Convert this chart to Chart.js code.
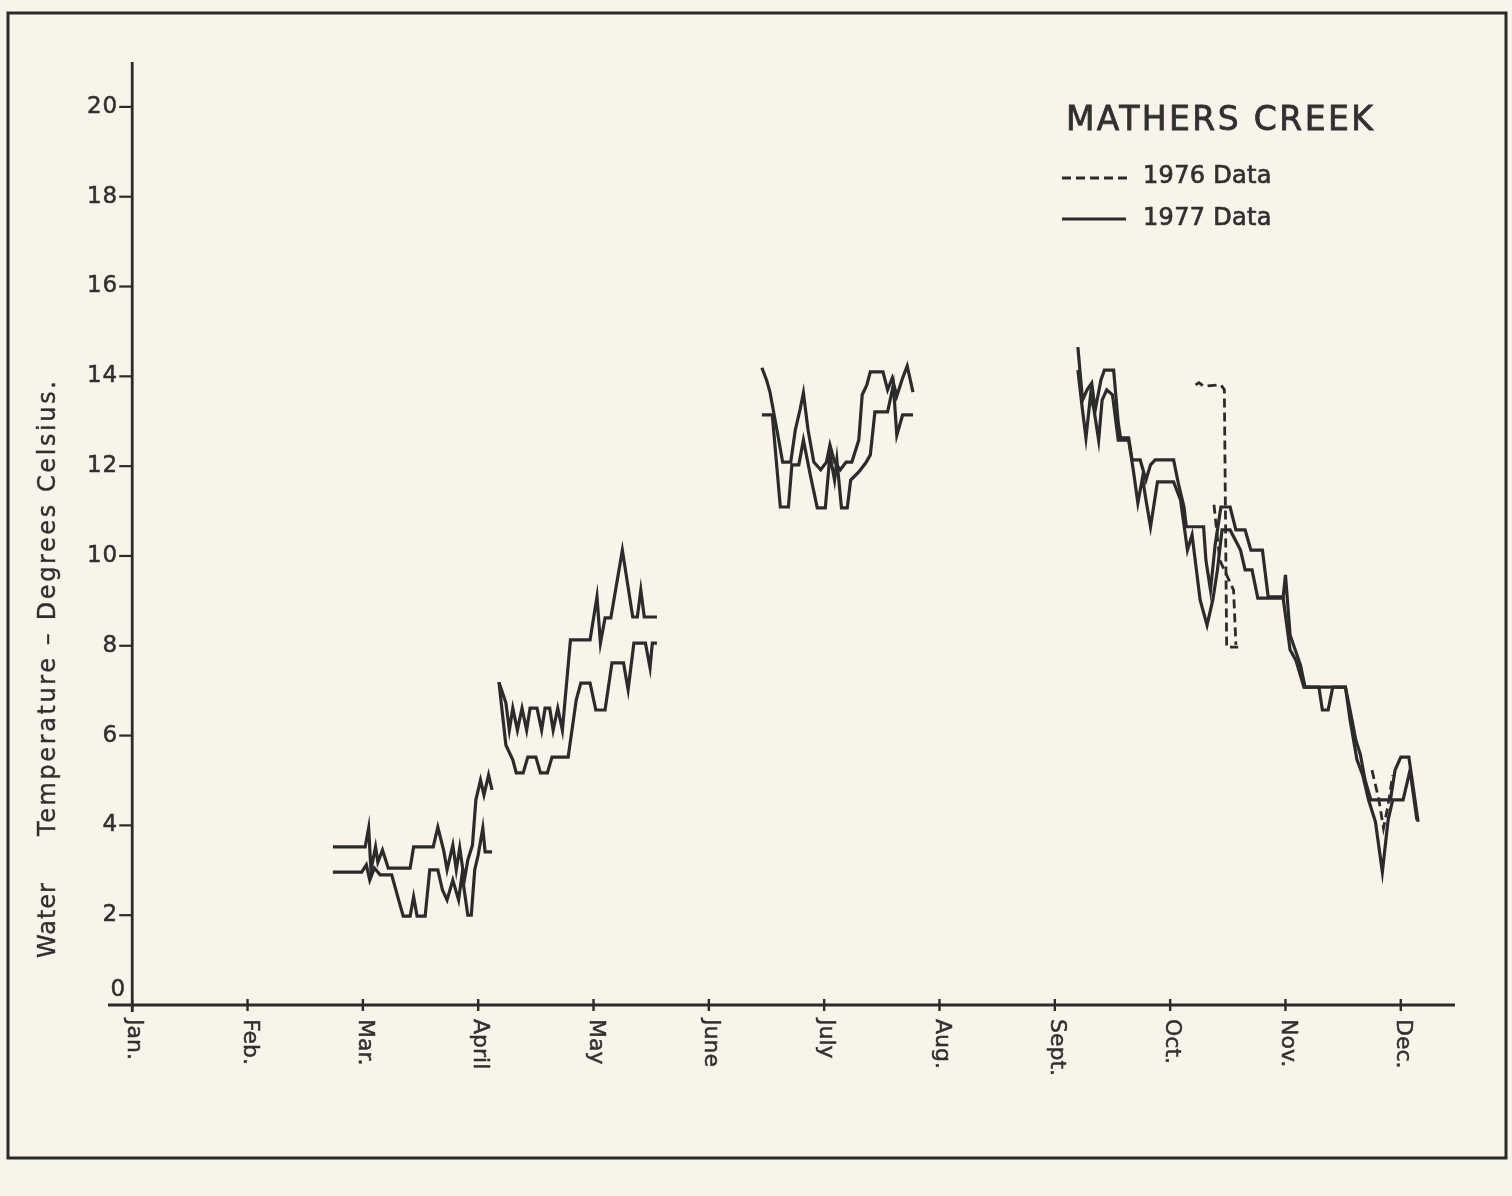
<!DOCTYPE html>
<html>
<head>
<meta charset="utf-8">
<title>Mathers Creek water temperature</title>
<script src="https://cdn.jsdelivr.net/npm/chart.js@4.4.1/dist/chart.umd.min.js"></script>
<style>
  html, body { margin: 0; padding: 0; background: #f8f4ea; }
  #wrap { width: 1512px; height: 1196px; position: relative; }
</style>
</head>
<body>
<div id="wrap"><canvas id="chart" width="1512" height="1196"></canvas></div>
<script>
// Month labels along the time axis (x = 0 is 1 January, 1 unit per month)
const monthLabels = ['Jan.', 'Feb.', 'Mar.', 'April', 'May', 'June', 'July', 'Aug.', 'Sept.', 'Oct.', 'Nov.', 'Dec.'];
// Temperature ticks, degrees Celsius
const tempTicks = [0, 2, 4, 6, 8, 10, 12, 14, 16, 18, 20];

// 1977 record, daily maximum and minimum traces: [month position, °C]
const marApr1977Max = [[1.74,3.52],[2.02,3.52],[2.05,3.94],[2.07,3.01],[2.11,3.52],[2.13,3.18],[2.17,3.45],[2.22,3.05],[2.41,3.05],[2.44,3.52],[2.61,3.52],[2.65,3.96],[2.70,3.45],[2.73,3.01],[2.78,3.56],[2.81,3.01],[2.84,3.50],[2.88,2.78],[2.91,3.23],[2.95,3.56],[2.98,4.57],[3.02,5.01],[3.05,4.68],[3.09,5.12],[3.12,4.79]];
const marApr1977Min = [[1.74,2.96],[1.99,2.96],[2.03,3.12],[2.06,2.78],[2.10,3.05],[2.15,2.90],[2.25,2.90],[2.31,2.34],[2.35,1.98],[2.41,1.98],[2.44,2.41],[2.47,1.98],[2.54,1.98],[2.58,3.01],[2.65,3.01],[2.69,2.56],[2.73,2.34],[2.78,2.78],[2.83,2.34],[2.86,2.90],[2.91,2.00],[2.94,2.00],[2.97,3.01],[3.00,3.34],[3.04,3.94],[3.06,3.41],[3.12,3.41]];

const aprMay1977Max = [[3.18,7.19],[3.24,6.73],[3.27,6.12],[3.30,6.61],[3.34,6.12],[3.38,6.61],[3.42,6.12],[3.45,6.61],[3.51,6.61],[3.55,6.12],[3.58,6.61],[3.62,6.61],[3.65,6.12],[3.69,6.61],[3.73,6.12],[3.80,8.13],[3.97,8.13],[4.03,9.09],[4.06,8.06],[4.10,8.62],[4.15,8.62],[4.25,10.13],[4.34,8.64],[4.38,8.64],[4.41,9.24],[4.44,8.64],[4.55,8.64]];
const aprMay1977Min = [[3.18,7.19],[3.24,5.79],[3.30,5.46],[3.33,5.17],[3.39,5.17],[3.43,5.52],[3.50,5.52],[3.54,5.17],[3.60,5.17],[3.64,5.52],[3.78,5.52],[3.85,6.79],[3.89,7.17],[3.97,7.17],[4.02,6.57],[4.10,6.57],[4.16,7.62],[4.26,7.62],[4.30,7.02],[4.35,8.06],[4.45,8.06],[4.49,7.51],[4.51,8.06],[4.55,8.06]];

const julAug1977Max = [[5.46,14.19],[5.50,13.92],[5.53,13.65],[5.59,12.81],[5.64,12.09],[5.71,12.09],[5.75,12.81],[5.79,13.25],[5.82,13.63],[5.86,12.81],[5.91,12.09],[5.97,11.92],[6.02,12.09],[6.05,12.47],[6.09,12.09],[6.14,11.92],[6.19,12.09],[6.24,12.09],[6.30,12.58],[6.33,13.59],[6.37,13.81],[6.40,14.10],[6.51,14.10],[6.55,13.70],[6.59,13.96],[6.63,13.56],[6.68,13.96],[6.72,14.23],[6.77,13.65]];
const julAug1977Min = [[5.46,13.14],[5.55,13.14],[5.62,11.09],[5.69,11.09],[5.72,12.03],[5.78,12.03],[5.82,12.58],[5.88,11.80],[5.94,11.07],[6.01,11.07],[6.05,12.25],[6.09,11.69],[6.11,12.14],[6.15,11.07],[6.20,11.07],[6.23,11.69],[6.30,11.87],[6.36,12.07],[6.40,12.25],[6.44,13.21],[6.55,13.21],[6.60,13.81],[6.63,12.69],[6.68,13.14],[6.77,13.14]];

const sepDec1977Max = [[8.20,14.65],[8.24,13.47],[8.28,13.70],[8.32,13.85],[8.35,13.25],[8.40,13.92],[8.43,14.14],[8.51,14.14],[8.55,12.96],[8.57,12.63],[8.64,12.63],[8.67,12.14],[8.74,12.14],[8.79,11.69],[8.83,12.03],[8.87,12.14],[9.03,12.14],[9.07,11.63],[9.12,11.09],[9.14,10.65],[9.29,10.65],[9.31,9.91],[9.35,9.24],[9.39,10.24],[9.44,11.09],[9.52,11.09],[9.57,10.58],[9.65,10.58],[9.70,10.13],[9.80,10.13],[9.85,9.09],[9.98,9.09],[10.00,9.58],[10.04,8.24],[10.13,7.57],[10.17,7.08],[10.52,7.08],[10.56,6.57],[10.61,5.90],[10.65,5.57],[10.69,5.01],[10.74,4.57],[10.91,4.57],[10.95,5.23],[11.00,5.52],[11.07,5.52],[11.15,4.08]];
const sepDec1977Min = [[8.20,14.14],[8.24,13.25],[8.27,12.63],[8.31,13.59],[8.34,13.25],[8.38,12.58],[8.41,13.47],[8.45,13.70],[8.50,13.59],[8.55,12.58],[8.64,12.58],[8.68,11.92],[8.72,11.18],[8.76,11.74],[8.79,11.25],[8.83,10.65],[8.89,11.65],[9.03,11.65],[9.09,11.25],[9.15,10.13],[9.19,10.47],[9.26,9.02],[9.32,8.46],[9.37,9.02],[9.41,9.69],[9.45,10.58],[9.52,10.58],[9.61,10.13],[9.65,9.69],[9.71,9.69],[9.76,9.06],[9.98,9.06],[10.04,7.91],[10.09,7.68],[10.16,7.08],[10.29,7.08],[10.32,6.57],[10.37,6.57],[10.41,7.08],[10.52,7.08],[10.56,6.35],[10.62,5.46],[10.67,5.12],[10.72,4.57],[10.78,4.08],[10.84,2.96],[10.89,4.12],[10.93,4.57],[11.02,4.57],[11.08,5.23],[11.14,4.12]];

// 1976 record (dashed): October and December fragments
const oct1976Max = [[9.22,13.81],[9.25,13.86],[9.29,13.78],[9.44,13.81],[9.47,13.70],[9.49,7.97],[9.59,7.97]];
const oct1976Min = [[9.38,11.14],[9.43,9.91],[9.55,9.24],[9.57,8.02]];
const dec1976 = [[10.75,5.23],[10.81,4.57],[10.85,3.94],[10.89,4.45],[10.93,5.12]];

const INK = '#2b2b2b';
const TEXT = '#303030';
const FONT = '"DejaVu Sans", "Liberation Sans", sans-serif';

// Join several fragments into one dataset, breaking the line between them
function joinSegments(...segments) {
  const out = [];
  segments.forEach((seg, i) => {
    if (i > 0) out.push({ x: (segments[i - 1][segments[i - 1].length - 1][0] + seg[0][0]) / 2, y: null });
    seg.forEach(([x, y]) => out.push({ x, y }));
  });
  return out;
}

function lineSet(label, data, dashed) {
  return {
    label, data,
    borderColor: INK,
    borderWidth: dashed ? 2.8 : 3.2,
    borderDash: dashed ? [9, 5] : [],
    borderJoinStyle: 'miter',
    pointRadius: 0,
    tension: 0,
    spanGaps: false,
    fill: false
  };
}

// Hand-lettered look: fill plus a hairline outline
function letter(ctx, text, x, y, weight) {
  ctx.fillText(text, x, y);
  ctx.lineWidth = weight;
  ctx.strokeText(text, x, y);
}

// Paper, frame, axes, labels and key
const paperPlugin = {
  id: 'paper',
  beforeDraw(chart) {
    const ctx = chart.ctx;
    ctx.save();
    ctx.fillStyle = '#f8f4ea';
    ctx.fillRect(0, 0, chart.width, chart.height);
    ctx.strokeStyle = '#2a2a2a';
    ctx.lineWidth = 3;
    ctx.strokeRect(8, 13, 1498, 1145);
    ctx.restore();
  },
  afterDatasetsDraw(chart) {
    const ctx = chart.ctx;
    const xs = chart.scales.x, ys = chart.scales.y;
    const x0 = xs.getPixelForValue(0);
    const yBase = ys.getPixelForValue(0);
    ctx.save();
    ctx.strokeStyle = INK;
    ctx.fillStyle = TEXT;
    ctx.lineWidth = 2.8;
    ctx.lineCap = 'butt';

    // time axis
    ctx.beginPath();
    ctx.moveTo(xs.left, yBase);
    ctx.lineTo(xs.right, yBase);
    ctx.stroke();
    // temperature axis
    ctx.beginPath();
    ctx.moveTo(x0, ys.top);
    ctx.lineTo(x0, yBase + 7);
    ctx.stroke();

    // temperature ticks and numbers
    ctx.font = '23px ' + FONT;
    ctx.textAlign = 'right';
    ctx.textBaseline = 'middle';
    ctx.letterSpacing = '1px';
    tempTicks.forEach(t => {
      const py = ys.getPixelForValue(t);
      ctx.strokeStyle = INK;
      if (t > 0) {
        ctx.lineWidth = 2.2;
        ctx.beginPath();
        ctx.moveTo(x0 - 13, py);
        ctx.lineTo(x0, py);
        ctx.stroke();
        ctx.strokeStyle = TEXT;
        letter(ctx, String(t), x0 - 14, py, 0.5);
      } else {
        ctx.strokeStyle = TEXT;
        letter(ctx, String(t), x0 - 6, py - 15, 0.5);
      }
    });
    ctx.letterSpacing = '0px';

    // month ticks and rotated names
    ctx.textAlign = 'left';
    ctx.font = '22px ' + FONT;
    monthLabels.forEach((m, i) => {
      const px = xs.getPixelForValue(i);
      ctx.strokeStyle = INK;
      ctx.lineWidth = 2.4;
      ctx.beginPath();
      ctx.moveTo(px, yBase - 6);
      ctx.lineTo(px, yBase + 6);
      ctx.stroke();
      ctx.save();
      ctx.translate(px + 2, yBase + 14);
      ctx.rotate(Math.PI / 2);
      ctx.strokeStyle = TEXT;
      letter(ctx, m, 0, 0, 0.5);
      ctx.restore();
    });

    // vertical axis title
    ctx.save();
    ctx.font = '24px ' + FONT;
    ctx.translate(49, 0);
    ctx.rotate(-Math.PI / 2);
    ctx.textAlign = 'left';
    ctx.textBaseline = 'middle';
    ctx.strokeStyle = TEXT;
    ctx.letterSpacing = '1px';
    letter(ctx, 'Water', -958, 0, 0.4);
    ctx.letterSpacing = '2.6px';
    letter(ctx, 'Temperature \u2013 Degrees Celsius.', -836, 0, 0.4);
    ctx.restore();

    // station name and key
    ctx.textAlign = 'left';
    ctx.textBaseline = 'middle';
    ctx.strokeStyle = TEXT;
    ctx.font = '33px ' + FONT;
    ctx.letterSpacing = '2.4px';
    letter(ctx, 'MATHERS CREEK', 1066, 121, 0.8);
    ctx.letterSpacing = '0.3px';
    ctx.font = '24px ' + FONT;
    letter(ctx, '1976 Data', 1143, 177, 0.7);
    letter(ctx, '1977 Data', 1143, 219, 0.7);
    ctx.letterSpacing = '0px';
    ctx.strokeStyle = INK;
    ctx.lineWidth = 2.8;
    ctx.setLineDash([9, 5]);
    ctx.beginPath();
    ctx.moveTo(1062, 178);
    ctx.lineTo(1130, 178);
    ctx.stroke();
    ctx.setLineDash([]);
    ctx.lineWidth = 3.2;
    ctx.beginPath();
    ctx.moveTo(1062, 219);
    ctx.lineTo(1126, 219);
    ctx.stroke();
    ctx.restore();
  }
};

new Chart(document.getElementById('chart').getContext('2d'), {
  type: 'line',
  data: {
    datasets: [
      lineSet('1977 Data (max)', joinSegments(marApr1977Max, aprMay1977Max, julAug1977Max, sepDec1977Max), false),
      lineSet('1977 Data (min)', joinSegments(marApr1977Min, aprMay1977Min, julAug1977Min, sepDec1977Min), false),
      lineSet('1976 Data (max)', joinSegments(oct1976Max, dec1976), true),
      lineSet('1976 Data (min)', joinSegments(oct1976Min), true)
    ]
  },
  options: {
    responsive: false,
    animation: false,
    devicePixelRatio: 1,
    layout: { padding: { left: 108, right: 57, top: 62, bottom: 191 } },
    plugins: { legend: { display: false }, tooltip: { enabled: false } },
    scales: {
      x: { type: 'linear', min: -0.21, max: 11.47, display: false },
      y: { type: 'linear', min: 0, max: 21, display: false }
    }
  },
  plugins: [paperPlugin]
});
</script>
</body>
</html>
